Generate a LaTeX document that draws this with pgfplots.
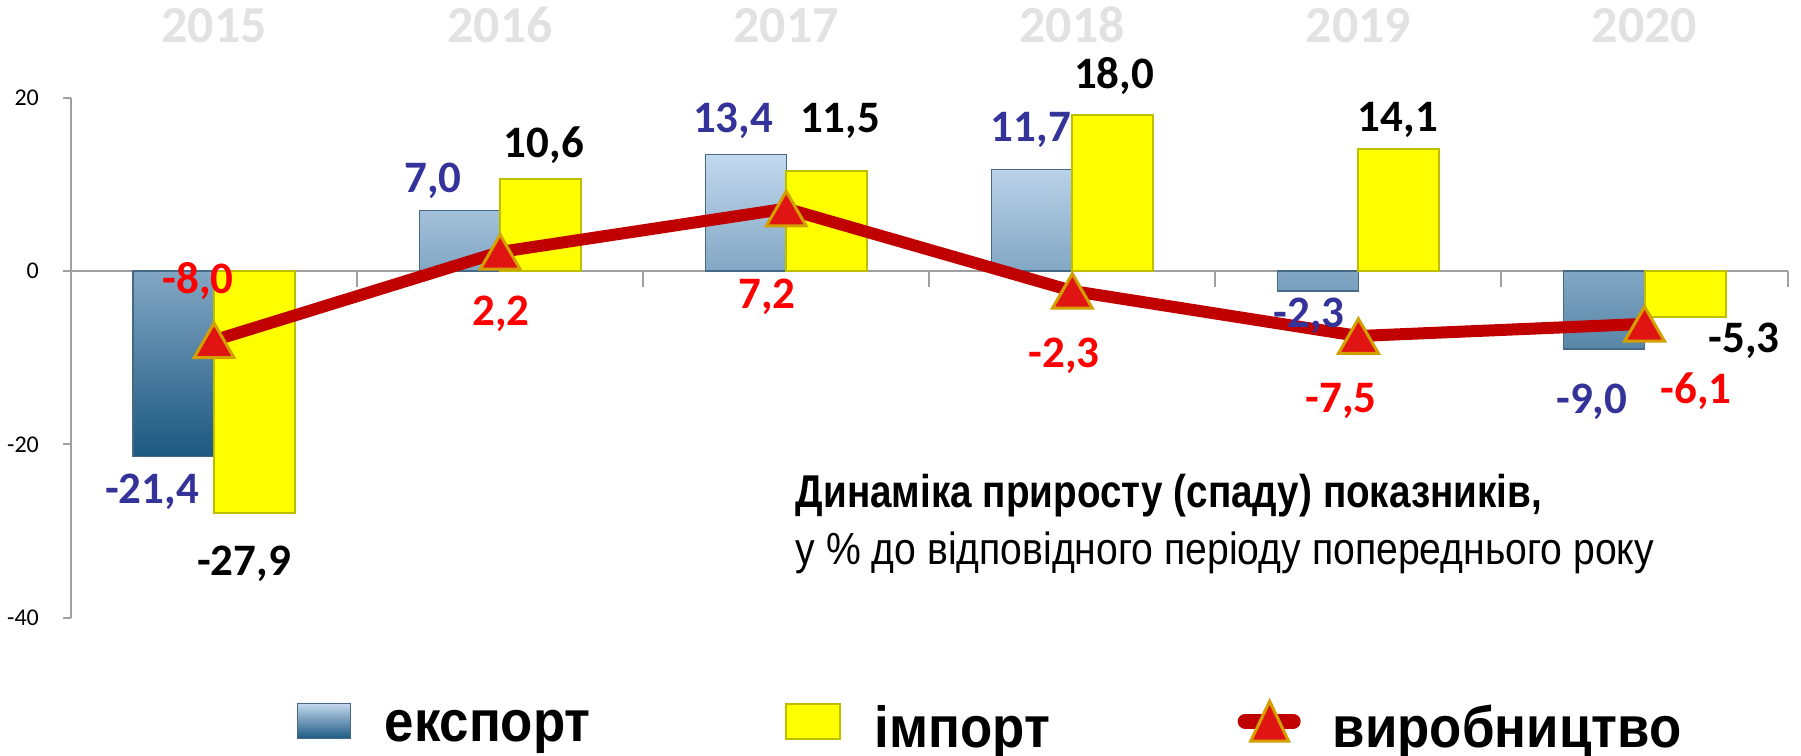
\documentclass[border=0pt]{standalone}
\usepackage{pgfplots}
\pgfplotsset{compat=1.18}
\usepackage{pgfplotstable}
\usepackage{fontspec}
\setmainfont{Carlito}
\newfontfamily\arialA[FakeStretch=0.84]{Liberation Sans}
\newfontfamily\arialB[FakeStretch=0.87]{Liberation Sans}
\newfontfamily\arialL[FakeStretch=0.91]{Liberation Sans}

\definecolor{expTop}{RGB}{194,216,238}
\definecolor{expBot}{RGB}{28,88,128}
\definecolor{expEdge}{RGB}{70,105,135}
\definecolor{impFill}{RGB}{255,255,0}
\definecolor{impEdge}{RGB}{190,190,0}
\definecolor{prodLine}{RGB}{192,0,0}
\definecolor{triFill}{RGB}{225,20,20}
\definecolor{triEdge}{RGB}{212,160,0}
\definecolor{lblBlue}{RGB}{51,51,153}
\definecolor{lblRed}{RGB}{255,0,0}
\definecolor{yearGray}{RGB}{226,226,226}
\definecolor{axGray}{RGB}{160,160,160}

\pgfplotstableread{
x exp imp prod
0 -21.4 -27.9 -8.0
1 7.0 10.6 2.2
2 13.4 11.5 7.2
3 11.7 18.0 -2.3
4 -2.3 14.1 -7.5
5 -9.0 -5.3 -6.1
}\datatable

\newcommand{\lbl}[4]{\node[text=#1, font=\bfseries\fontsize{11.25}{11.25}\selectfont] at (axis cs:#2,#3) {#4};}

\begin{document}
\begin{tikzpicture}
\useasboundingbox (0,0) rectangle (450.25pt,189pt);
\begin{axis}[
  at={(17.75pt,34.575pt)}, anchor=south west,
  scale only axis, width=429.15pt, height=130pt,
  xmin=-0.5, xmax=5.5, ymin=-40, ymax=20,
  clip=false,
  axis y line*=left, axis x line*=top,
  x axis line style={draw=none},
  y axis line style={draw=axGray, line width=0.5pt},
  tick align=outside, major tick length=2pt,
  xtick={0,1,2,3,4,5},
  xticklabels={2015,2016,2017,2018,2019,2020},
  xtick style={draw=none},
  xticklabel style={font=\bfseries\fontsize{13}{13}\selectfont, text=yearGray, anchor=base, yshift=11.7pt},
  ytick={-40,-20,0,20},
  yticklabels={-40,-20,0,20},
  ytick style={draw=axGray, line width=0.5pt},
  yticklabel style={font=\fontsize{6}{6}\selectfont, text=black, xshift=-2.5pt},
  legend columns=3,
  legend style={at={(axis description cs:0.1317,-0.2095)}, anchor=west,
    draw=none, fill=none, inner sep=0pt, outer sep=0pt, column sep=0pt, row sep=0pt,
    nodes={inner sep=0pt, yshift=-2pt, font=\arialL\bfseries\fontsize{14.5}{14.5}\selectfont, text=black}},
]
% zero line with category separators
\draw[axGray, line width=0.5pt] (axis cs:-0.5,0) -- (axis cs:5.5,0);
\pgfplotsinvokeforeach{0.5,1.5,2.5,3.5,4.5,5.5}{
  \draw[axGray, line width=0.5pt] (axis cs:#1,0) -- (axis cs:#1,-1.846);
}
\addplot[ybar, bar width=0.283, bar shift=-0.1415, draw=expEdge, line width=0.3pt,
  top color=expTop, bottom color=expBot,
  legend image code/.code={
    \shade[top color=expTop, bottom color=expBot, draw=expEdge, line width=0.3pt] (0pt,-4.375pt) rectangle (13.25pt,4.375pt);
    \path[draw=none, fill=none, shade=none] (0pt,0pt) -- (21.75pt,0pt);
  }] table[x=x,y=exp]{\datatable};
\addlegendentry{\makebox[100pt][l]{експорт}}
\addplot[ybar, bar width=0.283, bar shift=0.1415, fill=impFill, draw=impEdge, line width=0.5pt,
  legend image code/.code={
    \draw[fill=impFill, draw=impEdge, line width=0.5pt] (0pt,-4.375pt) rectangle (13.5pt,4.375pt);
    \path[draw=none, fill=none] (0pt,0pt) -- (22.25pt,0pt);
  }] table[x=x,y=imp]{\datatable};
\addlegendentry{\makebox[90.75pt][l]{імпорт}}
\addplot[prodLine, line width=3pt, mark=triangle*, mark size=5.75pt,
  mark options={fill=triFill, draw=triEdge, line width=0.75pt, yshift=-1.44pt},
  legend image code/.code={
    \draw[prodLine, line width=3.75pt, line cap=round] (1.875pt,0pt) -- (13.875pt,0pt);
    \draw[fill=triFill, draw=triEdge, line width=0.75pt] (3.25pt,-5pt) -- (12.75pt,-5pt) -- (8pt,5pt) -- cycle;
    \path[draw=none, fill=none] (0pt,0pt) -- (23.75pt,0pt);
  }] table[x=x,y=prod]{\datatable};
\addlegendentry{виробництво}
% export labels
\lbl{lblBlue}{-0.217}{-25.5}{-21,4}
\lbl{lblBlue}{0.765}{10.38}{7,0}
\lbl{lblBlue}{1.814}{17.31}{13,4}
\lbl{lblBlue}{2.855}{16.27}{11,7}
\lbl{lblBlue}{3.827}{-5.19}{-2,3}
\lbl{lblBlue}{4.816}{-15.11}{-9,0}
% import labels
\lbl{black}{0.105}{-33.81}{-27,9}
\lbl{black}{1.153}{14.54}{10,6}
\lbl{black}{2.188}{17.31}{11,5}
\lbl{black}{3.146}{22.5}{18,0}
\lbl{black}{4.138}{17.42}{14,1}
\lbl{black}{5.348}{-8.08}{-5,3}
% production labels
\lbl{lblRed}{-0.056}{-1.15}{-8,0}
\lbl{lblRed}{1.003}{-4.96}{2,2}
\lbl{lblRed}{1.933}{-3.0}{7,2}
\lbl{lblRed}{2.971}{-9.81}{-2,3}
\lbl{lblRed}{3.939}{-15.0}{-7,5}
\lbl{lblRed}{5.18}{-13.85}{-6,1}
\end{axis}
\node[anchor=base west, inner sep=0pt, font=\arialA\bfseries\fontsize{11.5}{11.5}\selectfont] at (198.75pt,62pt) {Динаміка приросту (спаду) показників,};
\node[anchor=base west, inner sep=0pt, font=\arialB\fontsize{11.25}{11.25}\selectfont] at (198.75pt,47.75pt) {у \% до відповідного періоду попереднього року};
\end{tikzpicture}
\end{document}
